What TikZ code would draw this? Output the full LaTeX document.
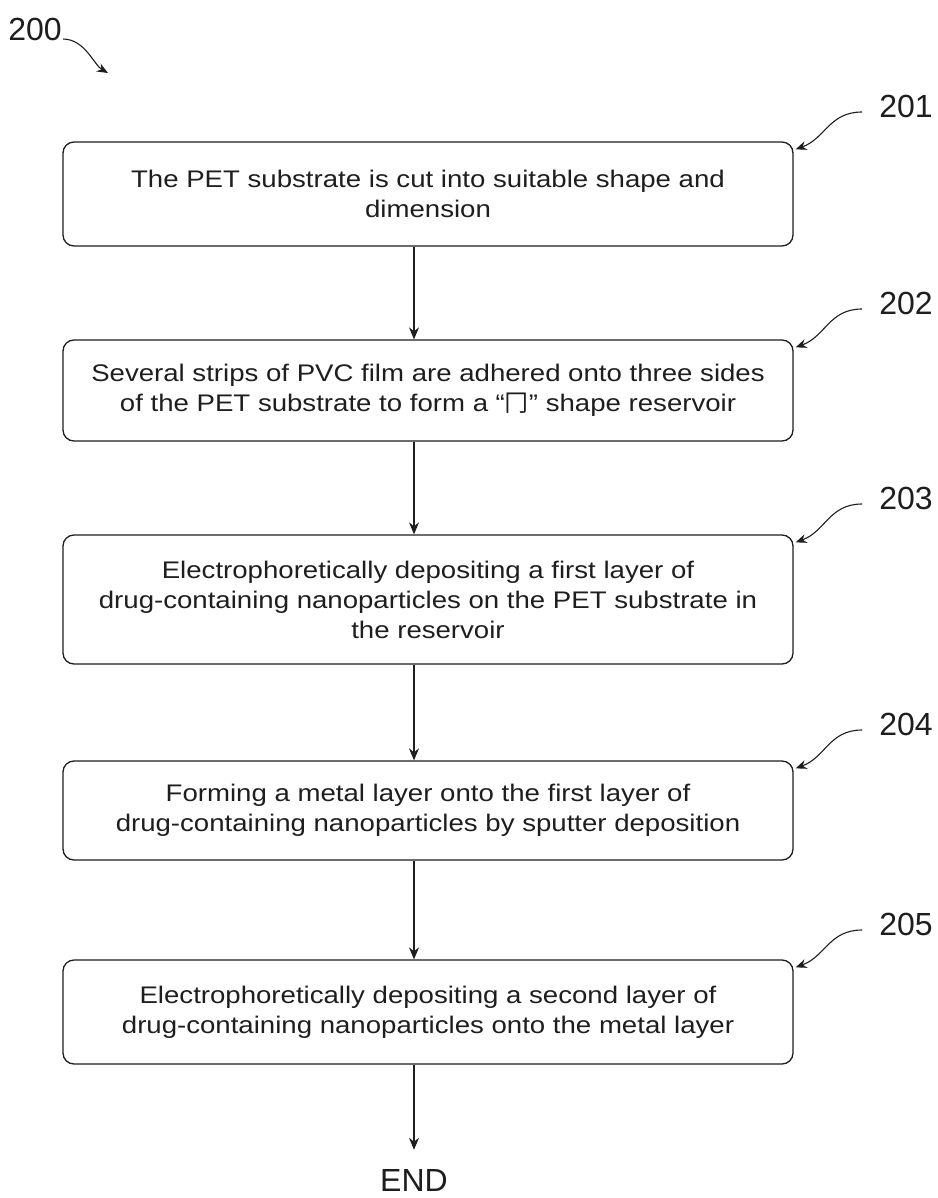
\documentclass[tikz,border=0pt]{standalone}
\usepackage{fontspec}
\setmainfont[FakeStretch=1.15]{Liberation Sans}
\newfontfamily\lblfont{Liberation Sans}
\newfontfamily\cjkfont{Noto Sans CJK SC}
\usetikzlibrary{arrows.meta,calc}
\definecolor{ink}{RGB}{30,30,30}
\begin{document}
\begin{tikzpicture}[x=1pt,y=-1pt,
  stepbox/.style={draw=ink, line width=1.3pt, rounded corners=11pt, minimum width=730pt, align=center, inner sep=0pt, font=\fontsize{24}{30}\selectfont, text=ink},
  lbl/.style={font=\lblfont\fontsize{32}{32}\selectfont, text=ink, inner sep=0pt},
  flow/.style={draw=ink, line width=1.2pt, -{Stealth[length=12pt,width=10pt]}},
  callout/.style={draw=ink, line width=1.1pt, -{Stealth[length=11pt,width=9pt]}}]
\fill[white] (0,0) rectangle (937,1198);
\useasboundingbox (0,0) rectangle (937,1198);

\node[stepbox, minimum height=104pt] (b1) at (428,194) {The PET substrate is cut into suitable shape and\\dimension};
\node[stepbox, minimum height=101pt] (b2) at (428,390.5) {Several strips of PVC film are adhered onto three sides\\of the PET substrate to form a “{\cjkfont 冂}” shape reservoir};
\node[stepbox, minimum height=129pt] (b3) at (428,599.5) {Electrophoretically depositing a first layer of\\drug-containing nanoparticles on the PET substrate in\\the reservoir};
\node[stepbox, minimum height=99pt] (b4) at (428,810.5) {Forming a metal layer onto the first layer of\\drug-containing nanoparticles by sputter deposition};
\node[stepbox, minimum height=104pt] (b5) at (428,1012) {Electrophoretically depositing a second layer of\\drug-containing nanoparticles onto the metal layer};
\node[lbl] (end) at (414,1180) {END};

\node[lbl] (l0) at (35,29.5) {200};
\node[lbl] (l1) at (906,106) {201};
\node[lbl] (l2) at (906,303) {202};
\node[lbl] (l3) at (906,498) {203};
\node[lbl] (l4) at (906,724) {204};
\node[lbl] (l5) at (906,924) {205};
\coordinate (t0) at (108,73);

\draw[flow] ([xshift=-14pt]b1.south) -- ([xshift=-14pt]b2.north);
\draw[flow] ([xshift=-14pt]b2.south) -- ([xshift=-14pt]b3.north);
\draw[flow] ([xshift=-14pt]b3.south) -- ([xshift=-14pt]b4.north);
\draw[flow] ([xshift=-14pt]b4.south) -- ([xshift=-14pt]b5.north);
\draw[flow] ([xshift=-14pt]b5.south) -- ([yshift=19pt]end.north);

\draw[callout] ([shift={(1pt,2pt)}]l0.south east) .. controls +(22,0) and +(-14,-8) .. (t0);
\foreach \i in {1,...,5}{
  \draw[callout] ([shift={(-17pt,-6pt)}]l\i.west) .. controls +(-33,0) and +(30,-11) .. ([shift={(2pt,-8pt)}]b\i.north east);
}
\end{tikzpicture}
\end{document}
